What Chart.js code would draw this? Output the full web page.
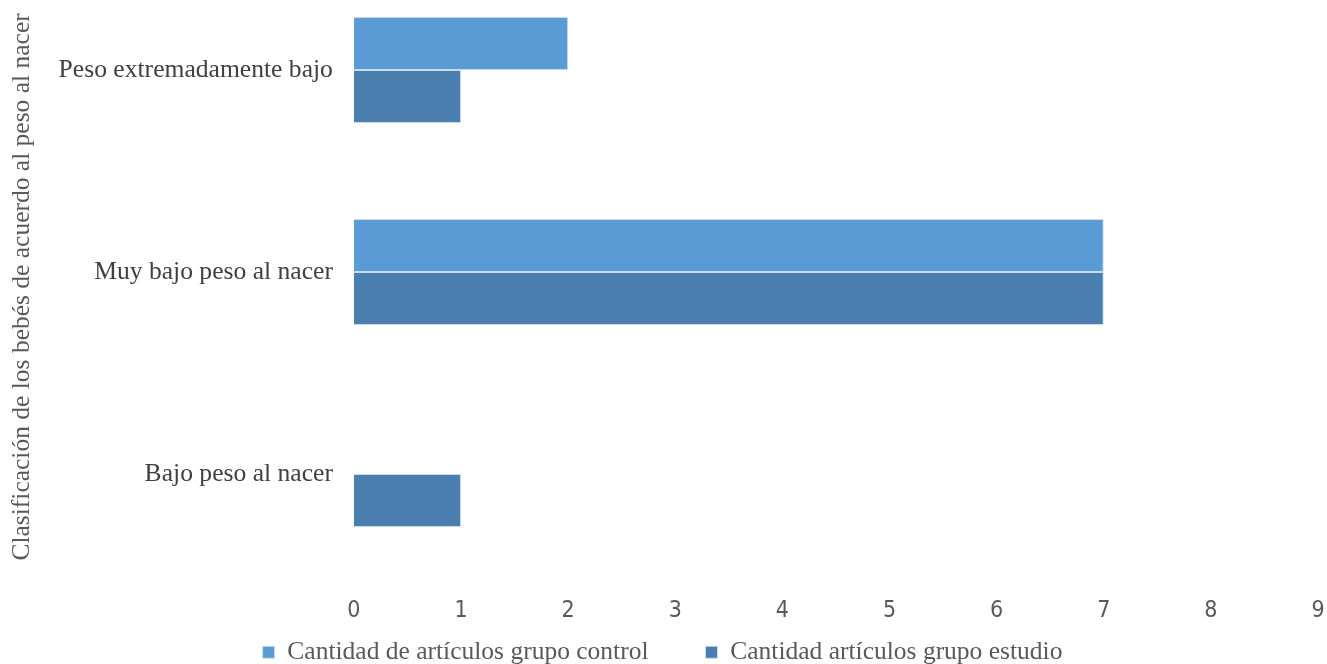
<!DOCTYPE html>
<html>
<head>
<meta charset="utf-8">
<script src="https://cdn.jsdelivr.net/npm/chart.js@4.4.0/dist/chart.umd.min.js"></script>
<style>
    html, body { margin: 0; padding: 0; background: #fff; overflow: hidden; }
    #wrap { width: 1327px; height: 664px; position: relative; overflow: hidden; }
    /* the plot area of the original starts just above the visible picture */
    #chart { position: absolute; left: 0; top: -31px; }
</style>
</head>
<body>
<div id="wrap"><canvas id="chart" width="1327" height="770"></canvas></div>
<script>
// Categories and values
const categories = ['Peso extremadamente bajo', 'Muy bajo peso al nacer', 'Bajo peso al nacer'];
const controlValues = [2, 7, 0];
const estudioValues = [1, 7, 1];
const xTicks = [0, 1, 2, 3, 4, 5, 6, 7, 8, 9];

const serif = '"Liberation Serif", "Times New Roman", serif';
const narrow = '"Liberation Sans Narrow", "DejaVu Sans Condensed", sans-serif';

// legend items need a wide gap between them, so the legend padding is large;
// pull the legend back up closer to the axis afterwards.
// the y title sits a bit lower than the middle of the plot area too
const layoutTweaks = {
    id: 'layoutTweaks',
    afterLayout(chart) {
        const lg = chart.legend;
        if (lg) {
            lg.top -= 64;
            lg.bottom -= 64;
        }
        chart.scales.y.top += 30;
    }
};

new Chart(document.getElementById('chart'), {
    type: 'bar',
    data: {
        labels: categories,
        datasets: [{
            label: 'Cantidad de artículos grupo control',
            data: controlValues,
            backgroundColor: '#5B9BD5',
            borderColor: '#C9DCEF',
            borderWidth: 1,
            categoryPercentage: 0.525,
            barPercentage: 1
        }, {
            label: 'Cantidad artículos grupo estudio',
            data: estudioValues,
            backgroundColor: '#4A7EAE',
            borderColor: '#C9DCEF',
            borderWidth: 1,
            categoryPercentage: 0.525,
            barPercentage: 1
        }]
    },
    plugins: [layoutTweaks],
    options: {
        indexAxis: 'y',
        responsive: false,
        animation: false,
        layout: {
            autoPadding: false,
            padding: { top: 0, right: 9, left: 7, bottom: 0 }
        },
        plugins: {
            legend: {
                position: 'bottom',
                labels: {
                    font: { family: serif, size: 25.5 },
                    color: '#595959',
                    boxWidth: 12,
                    boxHeight: 12,
                    padding: 57
                }
            },
            tooltip: { enabled: false }
        },
        scales: {
            x: {
                min: 0,
                max: 9,
                afterBuildTicks: (axis) => {
                    axis.ticks = xTicks.map(v => ({ value: v }));
                },
                afterFit: (axis) => {
                    axis.paddingLeft = 0;
                    axis.paddingRight = 0;
                },
                grid: { display: false, drawTicks: false },
                border: { display: false },
                ticks: {
                    font: { family: narrow, size: 23 },
                    color: '#595959',
                    padding: 22
                }
            },
            y: {
                afterFit: (axis) => {
                    axis.paddingTop = 0;
                    axis.paddingBottom = 0;
                },
                grid: { display: false, drawTicks: false },
                border: { display: false },
                ticks: {
                    font: { family: serif, size: 25.6 },
                    color: '#404040',
                    padding: 21
                },
                title: {
                    display: true,
                    text: 'Clasificación de los bebés de acuerdo al peso al nacer',
                    font: { family: serif, size: 25.5 },
                    color: '#595959',
                    padding: 0
                }
            }
        }
    }
});
</script>
</body>
</html>
